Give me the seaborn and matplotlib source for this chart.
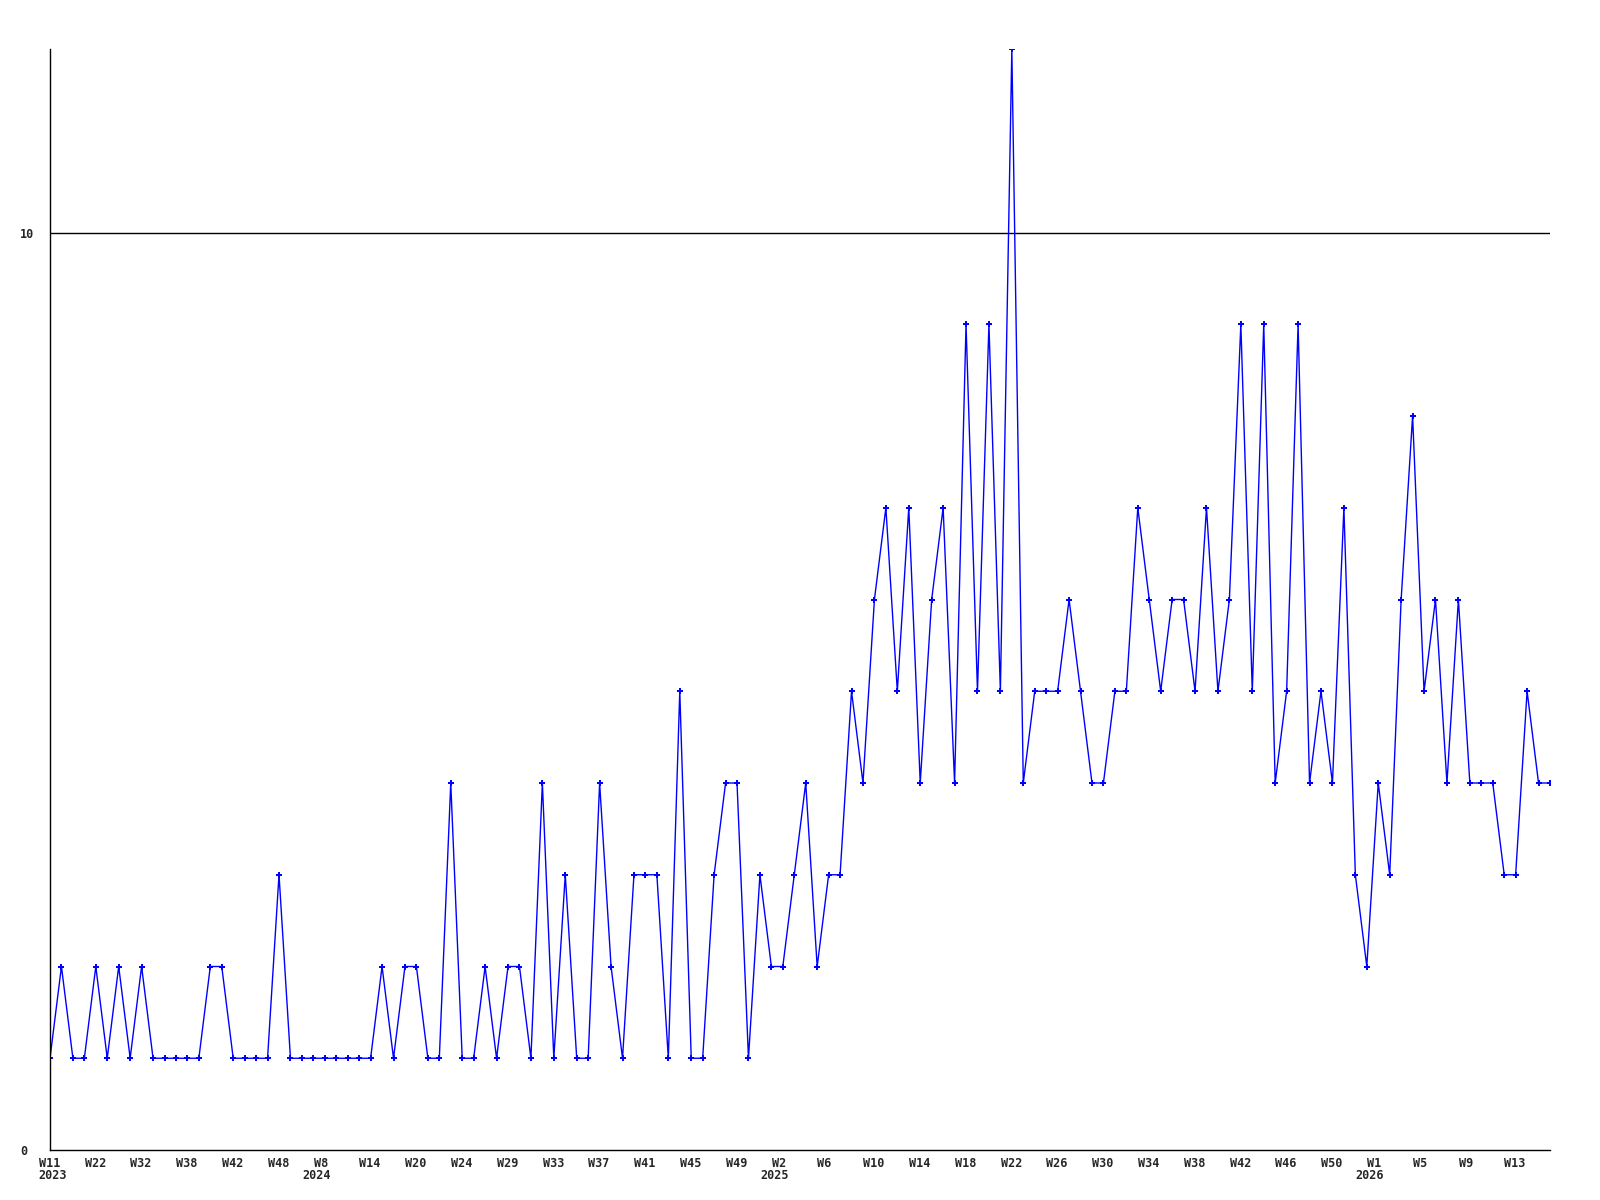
import matplotlib
matplotlib.use("Agg")
import matplotlib.pyplot as plt
import matplotlib.transforms as mtransforms
import seaborn as sns
import pandas as pd

# weekly counts (one point per week present in the data)
values = [1, 2, 1, 1, 2, 1, 2, 1, 2, 1, 1, 1, 1, 1, 2, 2, 1, 1, 1, 1,
          3, 1, 1, 1, 1, 1, 1, 1, 1, 2, 1, 2, 2, 1, 1, 4, 1, 1, 2, 1,
          2, 2, 1, 4, 1, 3, 1, 1, 4, 2, 1, 3, 3, 3, 1, 5, 1, 1, 3, 4,
          4, 1, 3, 2, 2, 3, 4, 2, 3, 3, 5, 4, 6, 7, 5, 7, 4, 6, 7, 4,
          9, 5, 9, 5, 12, 4, 5, 5, 5, 6, 5, 4, 4, 5, 5, 7, 6, 5, 6, 6,
          5, 7, 5, 6, 9, 5, 9, 4, 5, 9, 4, 5, 4, 7, 3, 2, 4, 3, 6, 8,
          5, 6, 4, 6, 4, 4, 4, 3, 3, 5, 4, 4]

week_labels = ["W11", "W22", "W32", "W38", "W42", "W48",
               "W8", "W14", "W20", "W24", "W29", "W33", "W37", "W41", "W45", "W49",
               "W2", "W6", "W10", "W14", "W18", "W22", "W26", "W30", "W34", "W38",
               "W42", "W46", "W50",
               "W1", "W5", "W9", "W13"]
# year label: (index in week_labels, text)
year_labels = [(0, "2023"), (6, "2024"), (16, "2025"), (29, "2026")]
label_step = 4
y_ticks = [0, 10]

df = pd.DataFrame({"idx": list(range(len(values))), "count": values})

sns.set_style("white")
plt.rcParams["font.family"] = ["DejaVu Sans Mono", "DejaVu Sans"]

fig = plt.figure(figsize=(16, 12), dpi=100)
ax = fig.add_axes([50 / 1600, 1 - 1150 / 1200, 1500 / 1600, 1101 / 1200])

sns.lineplot(data=df, x="idx", y="count", ax=ax, color="#0000FF",
             linewidth=1.0, marker="P", markersize=5,
             markeredgewidth=0, markerfacecolor="#0000FF")

ax.set_xlim(0, len(values) - 1)
ax.set_ylim(0, 12)

ax.axhline(10, color="black", linewidth=1.0, zorder=0)

ax.set_yticks(y_ticks)
ax.set_yticklabels([str(t) for t in y_ticks], fontsize=8.5, fontweight="bold",
                   ha="left")
ax.tick_params(axis="y", length=0, pad=21.5)

tick_pos = [i * label_step for i in range(len(week_labels))]
ax.set_xticks(tick_pos)
ax.set_xticklabels(week_labels, fontsize=8.5, fontweight="bold", ha="left",
                   va="top")
ax.tick_params(axis="x", length=0, pad=5)
shift_week = mtransforms.ScaledTranslation(-0.112, 0, fig.dpi_scale_trans)
for lbl in ax.get_xticklabels():
    lbl.set_transform(lbl.get_transform() + shift_week)

base = mtransforms.blended_transform_factory(ax.transData, ax.transAxes)
for k, (wi, yr) in enumerate(year_labels):
    dx = -0.112 if k == 0 else -0.225
    tr = base + mtransforms.ScaledTranslation(dx, -0.19, fig.dpi_scale_trans)
    ax.text(tick_pos[wi], 0, yr, transform=tr, fontsize=8.5,
            fontweight="bold", ha="left", va="top")

ax.set_xlabel("")
ax.set_ylabel("")

for s in ["top", "right"]:
    ax.spines[s].set_visible(False)
for s in ["left", "bottom"]:
    ax.spines[s].set_color("black")
    ax.spines[s].set_linewidth(1.0)

fig.savefig("out.png", dpi=100, facecolor="white")
